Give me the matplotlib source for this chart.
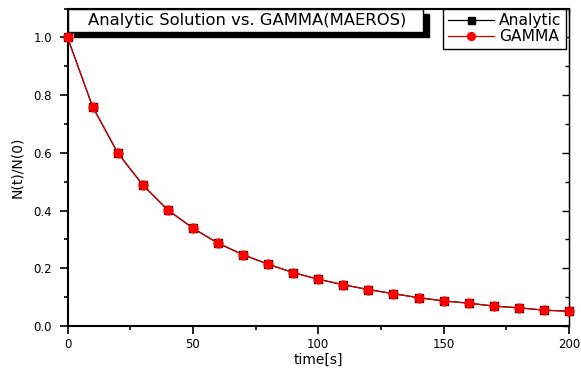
import matplotlib
matplotlib.use("Agg")
import matplotlib.pyplot as plt
from matplotlib.patches import Rectangle
from matplotlib.ticker import MultipleLocator, FormatStrFormatter, NullFormatter

plt.rcParams['font.family'] = ['DejaVu Sans']

time_s = [0, 10, 20, 30, 40, 50, 60, 70, 80, 90, 100, 110, 120, 130, 140, 150, 160, 170, 180, 190, 200]
analytic = [1.0, 0.760, 0.600, 0.489, 0.402, 0.339, 0.287, 0.247, 0.214, 0.185, 0.162, 0.143, 0.126,
            0.112, 0.098, 0.087, 0.079, 0.069, 0.063, 0.055, 0.051]
gamma = [1.0, 0.760, 0.600, 0.489, 0.402, 0.339, 0.287, 0.247, 0.214, 0.185, 0.162, 0.143, 0.126,
         0.112, 0.098, 0.087, 0.079, 0.069, 0.063, 0.055, 0.051]
title_text = "Analytic Solution vs. GAMMA(MAEROS)"

W, H = 581, 376
fig = plt.figure(figsize=(W / 100, H / 100), dpi=100)
L, R, T, B = 67.5, 569, 8.5, 326
ax = fig.add_axes([L / W, 1 - B / H, (R - L) / W, (B - T) / H])

ax.plot(time_s, analytic, color='black', lw=0.9, marker='s', ms=5.6, mfc='black', mec='black',
        label='Analytic', zorder=3, clip_on=False)
ax.plot(time_s, gamma, color='#d40000', lw=0.9, marker='o', ms=6.3, mfc='#ff0000', mec='#ff0000',
        label='GAMMA', zorder=4, clip_on=False)

ax.set_xlim(0, 200)
ax.set_ylim(0, 1.1)
ax.xaxis.set_major_locator(MultipleLocator(50))
ax.xaxis.set_minor_locator(MultipleLocator(25))
ax.yaxis.set_major_locator(MultipleLocator(0.2))
ax.yaxis.set_minor_locator(MultipleLocator(0.1))
ax.yaxis.set_major_formatter(FormatStrFormatter('%.1f'))
ax.tick_params(which='major', direction='out', length=5.5, width=1.2, labelsize=8.5)
ax.tick_params(axis='x', which='major', pad=3.5)
ax.tick_params(axis='y', which='major', pad=5.5)
ax.tick_params(which='minor', direction='out', length=3, width=1.2)
ax.spines['left'].set_linewidth(1.5)
ax.spines['bottom'].set_linewidth(1.5)
ax.spines['top'].set_linewidth(0.8)
ax.spines['right'].set_linewidth(1.0)

# inward ticks on top and right
for axis, side in ((ax.secondary_xaxis('top'), 'x'), (ax.secondary_yaxis('right'), 'y')):
    a = axis.xaxis if side == 'x' else axis.yaxis
    a.set_major_locator(MultipleLocator(50 if side == 'x' else 0.2))
    a.set_minor_locator(MultipleLocator(25 if side == 'x' else 0.1))
    a.set_major_formatter(NullFormatter())
    axis.tick_params(which='major', direction='in', length=5, width=1)
    axis.tick_params(which='minor', direction='in', length=3, width=1)
    for s in axis.spines.values():
        s.set_linewidth(0.8)

ax.set_xlabel('time[s]', fontsize=10, labelpad=1)
ax.set_ylabel('N(t)/N(0)', fontsize=10, labelpad=7)

# title box with shadow
bx0, bx1 = (68 - L) / (R - L), (423 - L) / (R - L)
by1, by0 = 1.0, (B - 32) / (B - T)
dx, dy = 6 / (R - L), 5 / (B - T)
ax.add_patch(Rectangle((bx0 + dx, by0 - dy), bx1 - bx0, by1 - by0, transform=ax.transAxes,
                       facecolor='black', edgecolor='black', zorder=2, clip_on=False))
ax.add_patch(Rectangle((bx0, by0), bx1 - bx0, by1 - by0, transform=ax.transAxes,
                       facecolor='white', edgecolor='black', lw=1, zorder=2.5, clip_on=False))
ax.text((bx0 + bx1) / 2 + 0.003, (by0 + by1) / 2, title_text, transform=ax.transAxes,
        ha='center', va='center', fontsize=11.8, zorder=5)

leg = ax.legend(loc='upper right', bbox_to_anchor=(1 - 3 / (R - L), 1.0), borderaxespad=0,
                fontsize=11.2, frameon=True, fancybox=False, edgecolor='black', framealpha=1,
                handlelength=3.0, handletextpad=0.3, borderpad=0.3,
                labelspacing=0.08, markerscale=0.9)
leg.get_frame().set_linewidth(1)
leg.set_zorder(6)

fig.savefig('out.png', dpi=100)
